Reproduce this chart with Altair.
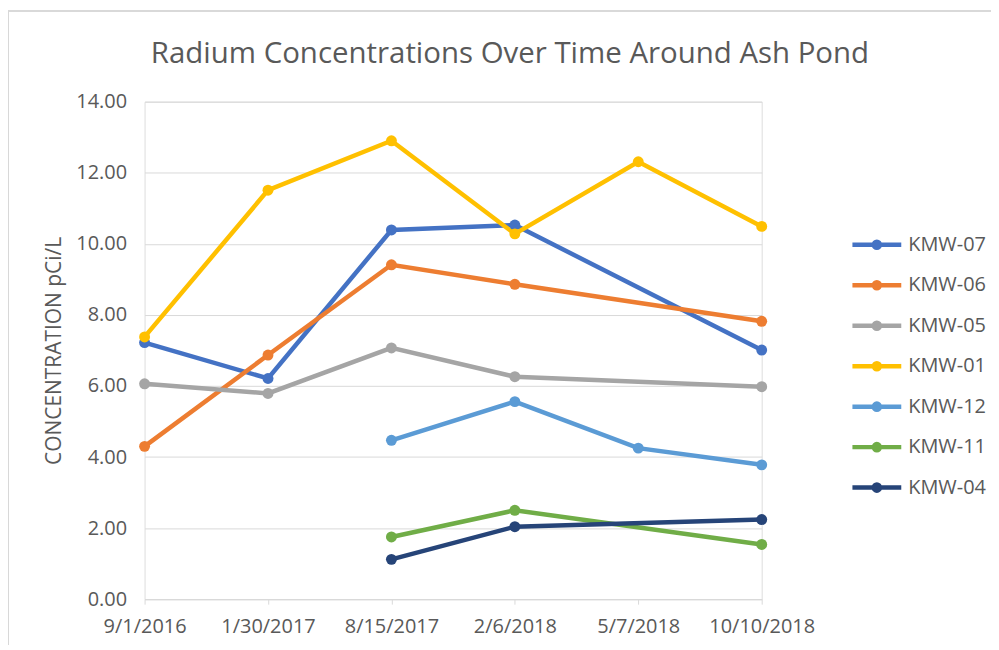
import altair as alt
import pandas as pd

dates = ["9/1/2016", "1/30/2017", "8/15/2017", "2/6/2018", "5/7/2018", "10/10/2018"]
series_names = ["KMW-07", "KMW-06", "KMW-05", "KMW-01", "KMW-12", "KMW-11", "KMW-04"]
series_colors = ["#4472C4", "#ED7D31", "#A5A5A5", "#FFC000", "#5B9BD5", "#70AD47", "#264478"]

kmw07 = [7.22, 6.21, 10.39, 10.53, None, 7.01]
kmw06 = [4.30, 6.87, 9.41, 8.86, None, 7.82]
kmw05 = [6.06, 5.79, 7.07, 6.26, None, 5.98]
kmw01 = [7.38, 11.51, 12.90, 10.28, 12.31, 10.49]
kmw12 = [None, None, 4.47, 5.56, 4.25, 3.78]
kmw11 = [None, None, 1.75, 2.50, None, 1.54]
kmw04 = [None, None, 1.12, 2.04, None, 2.24]

all_series = [kmw07, kmw06, kmw05, kmw01, kmw12, kmw11, kmw04]
y_ticks = [0, 2, 4, 6, 8, 10, 12, 14]

rows = []
for name, vals in zip(series_names, all_series):
    for d, v in zip(dates, vals):
        if v is not None:
            rows.append({"Date": d, "Well": name, "Value": v})
df = pd.DataFrame(rows)

FONT = "Open Sans"
GRAY = "#595959"
GRID = "#D9D9D9"

color_scale = alt.Scale(domain=series_names, range=series_colors)
legend_path = ("M-2,0L2,0 "
               "M0.25,0A0.25,0.25,0,1,1,-0.25,0A0.25,0.25,0,1,1,0.25,0Z")

def make_legend():
    return alt.Legend(
        orient="none",
        legendX=720,
        legendY=129,
        padding=0,
        symbolType=legend_path,
        symbolSize=600,
        symbolStrokeWidth=4.5,
        labelFont=FONT,
        labelFontSize=20,
        labelColor=GRAY,
        labelOffset=17,
        rowPadding=13.6,
        title=None,
    )

x_enc = alt.X(
    "Date:N",
    sort=dates,
    scale=alt.Scale(type="point", padding=0),
    axis=alt.Axis(
        title=None,
        labelAngle=0,
        labelFont=FONT,
        labelFontSize=20,
        labelColor=GRAY,
        labelPadding=12,
        domain=True,
        domainColor=GRID,
        domainWidth=1,
        ticks=True,
        tickColor=GRID,
        tickSize=5,
        grid=False,
    ),
)
y_enc = alt.Y(
    "Value:Q",
    scale=alt.Scale(domain=[0, 14], nice=False),
    axis=alt.Axis(
        title="CONCENTRATION pCi/L",
        values=y_ticks,
        format=".2f",
        labelFont=FONT,
        labelFontSize=20,
        labelColor=GRAY,
        labelPadding=18,
        domain=False,
        ticks=False,
        grid=True,
        gridColor=GRID,
        gridWidth=1,
        titleFont=FONT,
        titleFontSize=21,
        titleFontWeight="normal",
        titleColor=GRAY,
        titleAngle=270,
        titleX=-90,
        titleY=249.5,
        titleBaseline="middle",
        titleAlign="center",
    ),
)

base = alt.Chart(df)

lines = base.mark_line(strokeWidth=4.5).encode(
    x=x_enc,
    y=y_enc,
    color=alt.Color("Well:N", scale=color_scale, legend=make_legend()),
    detail="Well:N",
)

points = base.mark_point(filled=True, size=120, opacity=1).encode(
    x=x_enc,
    y=y_enc,
    color=alt.Color("Well:N", scale=color_scale, legend=make_legend()),
)

frame_top = base.mark_rule(color=GRID, strokeWidth=1.5).encode(
    x=alt.value(-137), x2=alt.value(860), y=alt.value(-91)
)
frame_left = base.mark_rule(color=GRID, strokeWidth=1.5).encode(
    x=alt.value(-137), y=alt.value(-91), y2=alt.value(560)
)

chart = (
    alt.layer(frame_top, frame_left, lines, points)
    .properties(
        width=619,
        height=499,
        title=alt.Title(
            "Radium Concentrations Over Time Around Ash Pond",
            font=FONT,
            fontSize=29.5,
            fontWeight="normal",
            color=GRAY,
            anchor="middle",
            frame="group",
            baseline="alphabetic",
            dx=57,
            offset=-82,
        ),
        autosize=alt.AutoSizeParams(type="none"),
        padding={"left": 137, "top": 93, "right": 230, "bottom": 45},
    )
    .configure_view(strokeWidth=0, stroke="transparent")
    .configure(background="white")
)

chart.save("out.html", embed_options={"renderer": "svg", "actions": False})
